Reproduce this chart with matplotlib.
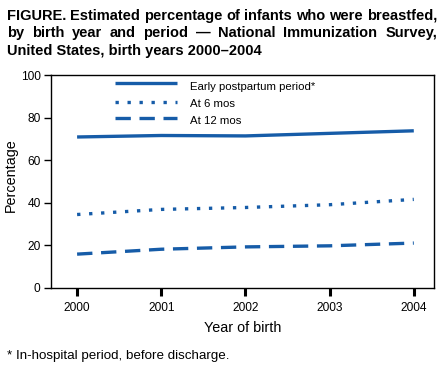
import matplotlib
matplotlib.use("Agg")
import matplotlib.pyplot as plt

years = [2000, 2001, 2002, 2003, 2004]
early = [70.9, 71.6, 71.4, 72.6, 73.8]
six_mos = [34.5, 36.9, 37.8, 39.1, 41.6]
twelve_mos = [15.9, 18.2, 19.3, 19.8, 21.1]
series_labels = ["Early postpartum period*", "At 6 mos", "At 12 mos"]
yticks = [0, 20, 40, 60, 80, 100]
title_lines = ["FIGURE. Estimated percentage of infants who were breastfed,",
               "by birth year and period \u2014 National Immunization Survey,",
               "United States, birth years 2000\u20132004"]

plt.rcParams['font.family'] = ['Liberation Sans', 'DejaVu Sans']
blue = "#165ca8"
W, H = 446, 370
LW = 2.4
styles = ['-', (0, (1, 2.6)), (0, (4.6, 2.6))]

fig = plt.figure(figsize=(4.46, 3.70), dpi=100)
ax = fig.add_axes([51/W, 1-288/H, (434-51)/W, (288-75)/H])

for vals, st in zip([early, six_mos, twelve_mos], styles):
    ax.plot(years, vals, color=blue, lw=LW, linestyle=st,
            dash_capstyle='butt', solid_capstyle='butt')

ax.set_xlim(1999.69, 2004.24)
ax.set_ylim(0, 100)
ax.set_xticks(years)
ax.set_xticklabels([str(y) for y in years], fontsize=8.6)
ax.set_yticks(yticks)
ax.set_yticklabels([str(v) for v in yticks], fontsize=8.6)
ax.tick_params(axis='x', length=6, width=2.2, pad=4)
ax.tick_params(axis='y', length=5, width=1, pad=2.5)
for s in ax.spines.values():
    s.set_linewidth(1.0)

ax.set_xlabel("Year of birth", fontsize=10.4, labelpad=5)
ax.set_ylabel("Percentage", fontsize=10.4)
ax.yaxis.set_label_coords((18-51)/383, 0.528)

line_ys = [83, 101.5, 118]
text_base = [90.5, 107, 124]
for lab, st, yp, tb in zip(series_labels, styles, line_ys, text_base):
    yy = 1 - yp/H
    fig.add_artist(plt.Line2D([115/W, 177/W], [yy, yy], color=blue, lw=LW,
                              linestyle=st, dash_capstyle='butt', solid_capstyle='butt'))
    fig.text(190/W, 1 - tb/H, lab, fontsize=8.2, va='baseline', ha='left')

# justified title (first two lines), last line left-aligned
renderer = fig.canvas.get_renderer()
x0, x1 = 7, 437
base_y = [20, 37.2, 54.5]
fs = 10.5
for i, (line, yp) in enumerate(zip(title_lines, base_y)):
    yy = 1 - yp/H
    if i < 2:
        words = line.split(" ")
        arts = [fig.text(0, yy, w, fontsize=fs, fontweight='bold', va='baseline', ha='left')
                for w in words]
        widths = [a.get_window_extent(renderer).width for a in arts]
        gap = (x1 - x0 - sum(widths)) / (len(words) - 1)
        x = x0
        for a, w in zip(arts, widths):
            a.set_x(x/W)
            x += w + gap
    else:
        fig.text(x0/W, yy, line, fontsize=fs, fontweight='bold', va='baseline', ha='left')

fig.text(7/W, 1-359/H, "* In-hospital period, before discharge.", fontsize=9.6,
         va='baseline', ha='left')

fig.savefig("out.png", dpi=100)
